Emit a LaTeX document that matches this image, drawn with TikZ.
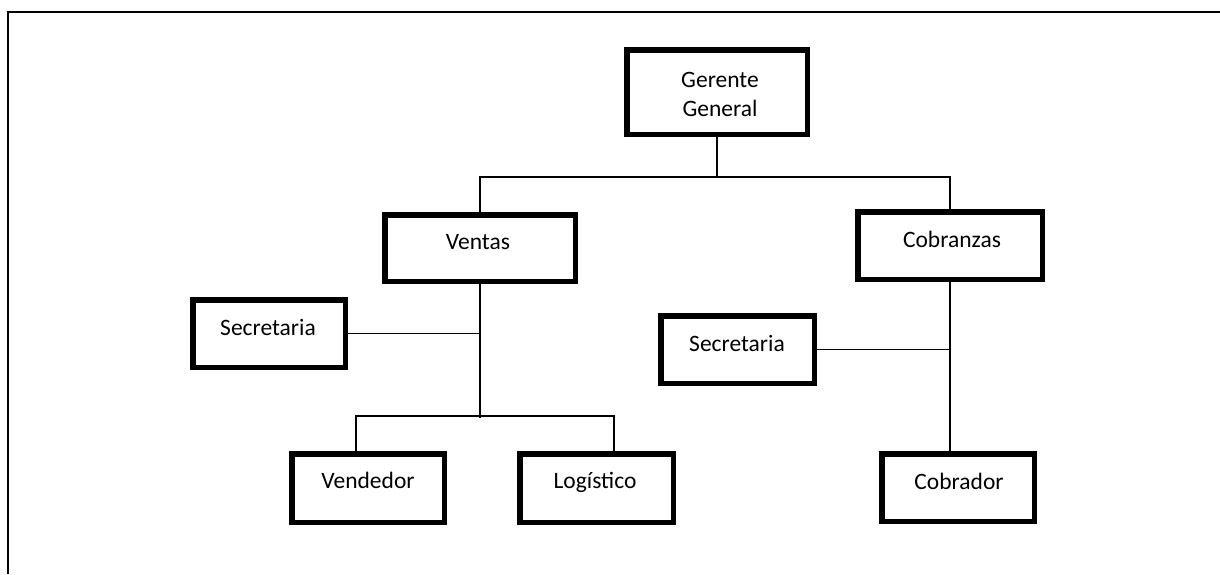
\documentclass[tikz,border=0pt]{standalone}
\usepackage{fontspec}
\setmainfont{Carlito}
\begin{document}
\begin{tikzpicture}[x=1pt,y=-1pt,
  box/.style={draw=black,line width=5.5pt,fill=white,inner sep=0pt,outer sep=2.75pt},
  lbl/.style={anchor=base,inner sep=0pt,font=\fontsize{23.5pt}{29pt}\selectfont},
  conn/.style={draw=black,line width=1.6pt},
  frame/.style={draw=black,line width=2pt}]
\useasboundingbox (0,0) rectangle (1220,574);
\draw[frame] (8,574) -- (8,12) -- (1220,12);
% boxes (outer sizes minus line width)
\node[box,minimum width=180.5pt,minimum height=84.5pt] (gg) at (717,92) {};
\node[box,minimum width=190.5pt,minimum height=66.5pt] (ventas) at (480,248) {};
\node[box,minimum width=184.5pt,minimum height=67.5pt] (cobr) at (950,245.5) {};
\node[box,minimum width=152.5pt,minimum height=67.5pt] (sec1) at (269,333.5) {};
\node[box,minimum width=153.5pt,minimum height=67.5pt] (sec2) at (737.5,349.5) {};
\node[box,minimum width=152.5pt,minimum height=68.5pt] (vend) at (368,488) {};
\node[box,minimum width=153.5pt,minimum height=68.5pt] (logi) at (596.5,488) {};
\node[box,minimum width=152.5pt,minimum height=67.5pt] (cobd) at (958,487.5) {};
% labels
\node[lbl] (tgg1) at (720,87) {Gerente};
\node[lbl] (tgg2) at (720,116) {General};
\node[lbl] (tventas) at (478,249) {Ventas};
\node[lbl] (tcobr) at (952,247) {Cobranzas};
\node[lbl] (tsec1) at (268,335) {Secretaria};
\node[lbl] (tsec2) at (737,351) {Secretaria};
\node[lbl] (tvend) at (368,488) {Vendedor};
\node[lbl] (tlogi) at (595,488) {Logístico};
\node[lbl] (tcobd) at (959,489) {Cobrador};
% connectors
\coordinate (j1) at (717,177);
\coordinate (vb) at (480,418);
\coordinate (b1) at (356,416);
\coordinate (b2) at (614,416);
\draw[conn] (gg.south) -- (j1);
\draw[conn] (ventas.north) |- (j1) -| (cobr.north);
\draw[conn] (ventas.south) -- (vb);
\draw[conn] (sec1.east) -- (sec1.east -| ventas.south);
\draw[conn] (b1 |- vend.north) -- (b1) -- (b2) -- (b2 |- logi.north);
\draw[conn] (cobr.south) -- (cobr.south |- cobd.north);
\draw[conn] (sec2.east) -- (sec2.east -| cobr.south);
\end{tikzpicture}
\end{document}
